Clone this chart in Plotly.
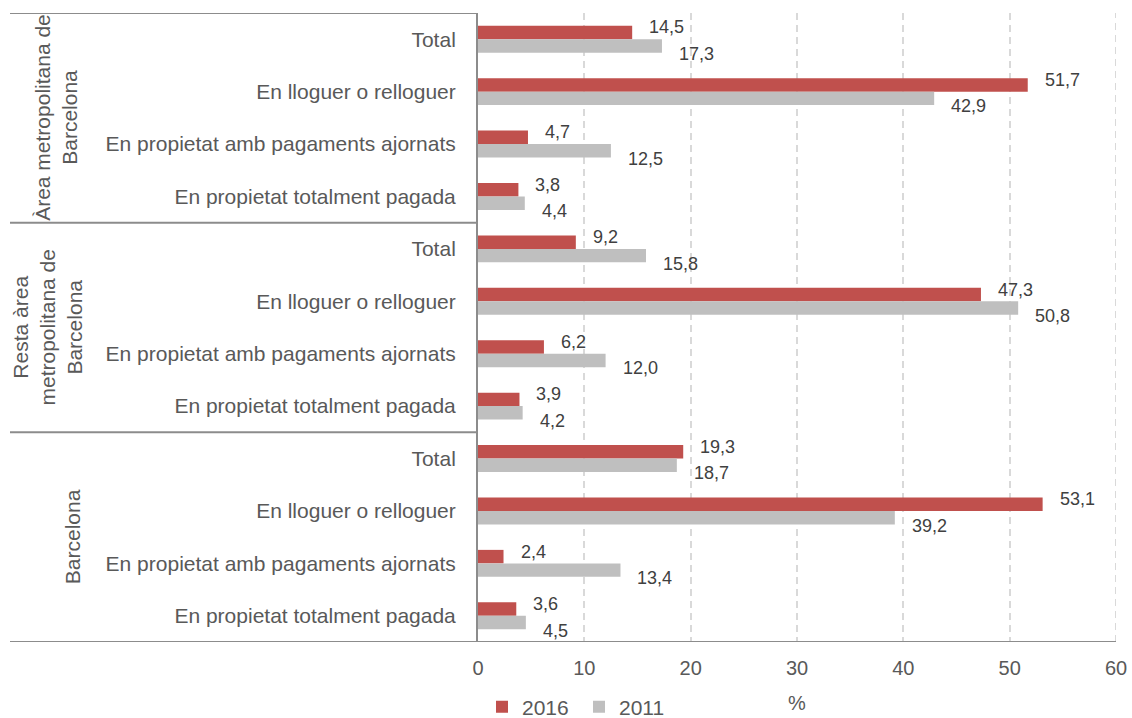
import plotly.graph_objects as go

groups = ["Àrea metropolitana de<br>Barcelona", "Resta àrea<br>metropolitana de<br>Barcelona", "Barcelona"]
subcats = ["Total", "En lloguer o relloguer", "En propietat amb pagaments ajornats", "En propietat totalment pagada"]
values_2016 = [14.5, 51.7, 4.7, 3.8, 9.2, 47.3, 6.2, 3.9, 19.3, 53.1, 2.4, 3.6]
values_2011 = [17.3, 42.9, 12.5, 4.4, 15.8, 50.8, 12.0, 4.2, 18.7, 39.2, 13.4, 4.5]
x_ticks = [0, 10, 20, 30, 40, 50, 60]

RED = "#C0504D"
GRAY = "#BFBFBF"
TXT = "#595959"
FONT = "Liberation Sans, Arial, sans-serif"

n = len(values_2016)
ypos = list(range(n))
labels = [subcats[i % len(subcats)] for i in range(n)]

W, H = 1132, 718
L, R, T, B = 478, 16, 13, 76
plot_w = W - L - R
plot_h = H - T - B

bargap = 0.485
half = (1 - bargap) / 4  # center offset of each bar in a pair

fig = go.Figure()
fig.add_trace(go.Bar(name="2016", y=ypos, x=values_2016, orientation="h",
                     marker=dict(color=RED, line=dict(width=0))))
fig.add_trace(go.Bar(name="2011", y=ypos, x=values_2011, orientation="h",
                     marker=dict(color=GRAY, line=dict(width=0))))

def fmt(v):
    return f"{v:.1f}".replace(".", ",")

ann = []
for i in range(n):
    ann.append(dict(x=values_2016[i], y=i - half, xref="x", yref="y", text=fmt(values_2016[i]),
                    showarrow=False, xanchor="left", yanchor="middle", xshift=15, yshift=5,
                    font=dict(size=18, color="#404040", family=FONT)))
    ann.append(dict(x=values_2011[i], y=i + half, xref="x", yref="y", text=fmt(values_2011[i]),
                    showarrow=False, xanchor="left", yanchor="middle", xshift=15, yshift=-8,
                    font=dict(size=18, color="#404040", family=FONT)))

# group labels (rotated)
per = len(subcats)
group_px = [56, 47, 72]
for g, name in enumerate(groups):
    mid = g * per + (per - 1) / 2
    ann.append(dict(x=(group_px[g] - L) / plot_w, y=mid, xref="paper", yref="y", text=name,
                    textangle=-90, showarrow=False, xanchor="center", yanchor="middle",
                    font=dict(size=21, color=TXT, family=FONT)))

# x axis title
ann.append(dict(x=0.5, y=-(703 - (H - B)) / plot_h, xref="paper", yref="paper", text="%",
                showarrow=False, xanchor="center", yanchor="middle",
                font=dict(size=20, color=TXT, family=FONT)))

x_left = (10 - L) / plot_w
shapes = []
for k in range(len(groups) + 1):
    yv = k * per - 0.5
    shapes.append(dict(type="line", xref="paper", yref="y", x0=x_left, x1=0 if k < len(groups) else 1,
                       y0=yv, y1=yv, line=dict(color="#8C8C8C", width=2)))
# dashed gridline at the right end of the axis
shapes.append(dict(type="line", xref="x", yref="paper", x0=x_ticks[-1], x1=x_ticks[-1], y0=0, y1=1,
                   layer="below", line=dict(color="#D9D9D9", width=2, dash="7px,5px")))

fig.update_layout(
    width=W, height=H,
    margin=dict(l=L, r=R, t=T, b=B, autoexpand=False),
    paper_bgcolor="white", plot_bgcolor="white",
    barmode="group", bargap=bargap, bargroupgap=0,
    font=dict(family=FONT, color=TXT),
    annotations=ann, shapes=shapes,
    legend=dict(orientation="h", x=(482 - L) / plot_w, xanchor="left",
                yref="container", y=1 - 707 / H, yanchor="middle",
                font=dict(size=21, color=TXT, family=FONT), itemwidth=30, traceorder="normal",
                entrywidth=52, entrywidthmode="pixels",
                bgcolor="rgba(0,0,0,0)"),
    xaxis=dict(range=[0, 60], tickvals=x_ticks, ticktext=[str(t) for t in x_ticks],
               showgrid=True, gridcolor="#D9D9D9", gridwidth=2, griddash="7px,5px",
               zeroline=False, showline=False,
               tickfont=dict(size=20, color=TXT, family=FONT), ticklabelstandoff=12),
    yaxis=dict(range=[n - 0.5, -0.5], tickvals=ypos, ticktext=labels, showgrid=False,
               zeroline=False, showline=True, linecolor="#8C8C8C", linewidth=2,
               tickfont=dict(size=21, color=TXT, family=FONT), ticklabelstandoff=16),
    showlegend=True,
)

fig.write_html("out.html", config={"displayModeBar": False},
               post_script="document.body.style.margin='0';document.body.style.overflow='hidden';")
